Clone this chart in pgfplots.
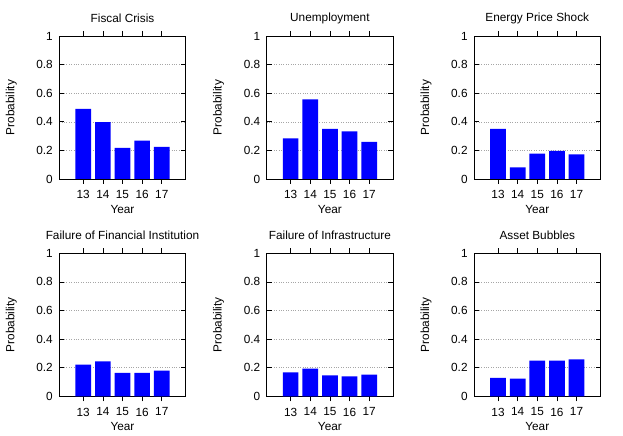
\documentclass[border=0pt]{standalone}
\usepackage{fontspec}
\setmainfont{Liberation Sans}
\usepackage{pgfplots}
\pgfplotsset{compat=1.18}
\usepgfplotslibrary{groupplots}

\newcommand{\gfont}{\fontsize{11.8bp}{13bp}\selectfont}

\pgfplotsset{
  riskbar/.style={
    scale only axis,
    width=126.4bp, height=143bp,
    xmin=11.78, xmax=18.22,
    ymin=0, ymax=1,
    xtick={13,14,15,16,17},
    ytick={0,0.2,0.4,0.6,0.8,1},
    ymajorgrids,
    grid style={gray!70, dotted, line width=0.5bp},
    tick align=inside,
    major tick length=5bp,
    axis line style={line width=0.7bp},
    every tick/.style={black, line width=0.6bp},
    /pgf/number format/assume math mode=true,
    tick label style={font=\gfont},
    xticklabel style={yshift=-3bp},
    yticklabel style={xshift=-3bp},
    xlabel={Year}, ylabel={Probability},
    every axis x label/.style={at={(axis description cs:0.5,-0.21)}, anchor=center, font=\gfont},
    every axis y label/.style={at={(axis description cs:-0.38,0.5)}, anchor=center, rotate=90, font=\gfont},
    every axis title/.style={at={(axis description cs:0.5,1.124)}, anchor=center, font=\gfont},
    ybar, bar width=0.8, bar shift=0pt,
  },
  riskfill/.style={fill=blue, draw=none},
}

\begin{document}
\begin{tikzpicture}
\begin{groupplot}[
  group style={group size=3 by 2, horizontal sep=81bp, vertical sep=74.3bp},
  riskbar,
]
\nextgroupplot[title={Fiscal Crisis}]
\addplot[riskfill] coordinates {(13,0.490) (14,0.397) (15,0.217) (16,0.268) (17,0.224)};

\nextgroupplot[title={Unemployment}]
\addplot[riskfill] coordinates {(13,0.284) (14,0.557) (15,0.350) (16,0.333) (17,0.259)};

\nextgroupplot[title={Energy Price Shock}]
\addplot[riskfill] coordinates {(13,0.350) (14,0.082) (15,0.177) (16,0.196) (17,0.172)};

\nextgroupplot[title={Failure of Financial Institution}]
\addplot[riskfill] coordinates {(13,0.221) (14,0.245) (15,0.163) (16,0.163) (17,0.179)};

\nextgroupplot[title={Failure of Infrastructure}]
\addplot[riskfill] coordinates {(13,0.168) (14,0.193) (15,0.147) (16,0.140) (17,0.152)};

\nextgroupplot[title={Asset Bubbles}]
\addplot[riskfill] coordinates {(13,0.128) (14,0.124) (15,0.249) (16,0.249) (17,0.259)};
\end{groupplot}
\path (group c1r1.north west) ++(-59.3bp,36bp) rectangle ++(623bp,-436bp);
\end{tikzpicture}
\end{document}
